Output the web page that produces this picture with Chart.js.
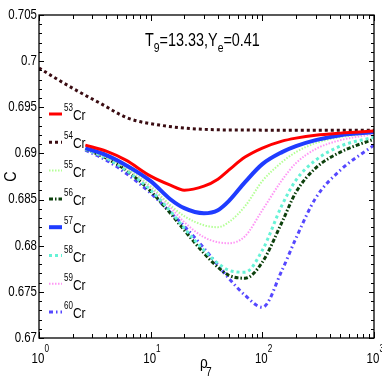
<!DOCTYPE html>
<html><head><meta charset="utf-8">
<script src="https://cdn.jsdelivr.net/npm/chart.js@4.4.1/dist/chart.umd.min.js"></script>
<style>html,body{margin:0;padding:0;background:#fff;}canvas{display:block;}</style>
</head><body>
<canvas id="c" width="382" height="382"></canvas>
<script>
// ---- data ----
const rho   = [2.6, 4, 6, 10, 15, 20, 30, 40, 50, 70, 100, 150, 200, 300, 500, 1000];
const rho54 = [1, 1.5, 2.3, 3.5, 6.25, 12, 27, 77, 200, 1000];
const c54 = [0.69925, 0.69795, 0.69665, 0.69546, 0.69383, 0.69307, 0.69264, 0.69253, 0.69252, 0.69252];
const c53 = [0.69090, 0.69025, 0.68927, 0.68754, 0.68656, 0.68602, 0.68645, 0.68721, 0.68819, 0.68960, 0.69058, 0.69133, 0.69166, 0.69198, 0.69220, 0.69242];
const c55 = [0.69047, 0.68960, 0.68841, 0.68645, 0.68439, 0.68320, 0.68222, 0.68201, 0.68255, 0.68428, 0.68700, 0.68906, 0.69014, 0.69112, 0.69177, 0.69220];
const c56 = [0.69047, 0.68949, 0.68819, 0.68591, 0.68352, 0.68168, 0.67919, 0.67767, 0.67680, 0.67648, 0.67821, 0.68255, 0.68580, 0.68841, 0.69014, 0.69155];
const c57 = [0.69058, 0.68982, 0.68873, 0.68700, 0.68504, 0.68407, 0.68352, 0.68385, 0.68483, 0.68689, 0.68884, 0.69014, 0.69079, 0.69144, 0.69198, 0.69231];
const c58 = [0.69047, 0.68949, 0.68819, 0.68602, 0.68374, 0.68190, 0.67951, 0.67810, 0.67734, 0.67713, 0.67951, 0.68439, 0.68710, 0.68927, 0.69079, 0.69177];
const c59 = [0.69047, 0.68960, 0.68841, 0.68634, 0.68418, 0.68255, 0.68092, 0.68038, 0.68027, 0.68103, 0.68385, 0.68710, 0.68895, 0.69047, 0.69144, 0.69209];
const c60 = [0.69036, 0.68927, 0.68786, 0.68569, 0.68363, 0.68211, 0.67973, 0.67789, 0.67648, 0.67463, 0.67333, 0.67734, 0.68081, 0.68515, 0.68819, 0.69090];
const yTicks = [0.67, 0.675, 0.68, 0.685, 0.69, 0.695, 0.7, 0.705];
const yTickLabels = ['0.67', '0.675', '0.68', '0.685', '0.69', '0.695', '0.7', '0.705'];
const xTicks = [1, 10, 100, 1000];
const xTickExp = ['0', '1', '2', '3'];
const massNumbers = ['53', '54', '55', '56', '57', '58', '59', '60'];
const titleParts = [['T', 0], ['9', 1], ['=13.33,Y', 0], ['e', 1], ['=0.41', 0]];

// ---- styles ----
const FONT = "'Liberation Sans Narrow','Liberation Sans',Arial,sans-serif";
const styles = {
  '53': {color: '#ff0000', width: 3, dash: []},
  '54': {color: '#3a0c12', width: 3, dash: [3, 3]},
  '55': {color: '#b4ff96', width: 2, dash: [1.5, 1.5]},
  '56': {color: '#0c400c', width: 3, dash: [4, 2, 1.5, 2]},
  '57': {color: '#1f3cff', width: 4, dash: []},
  '58': {color: '#66f2d6', width: 3, dash: [3, 3]},
  '59': {color: '#ff96f5', width: 2, dash: [1.5, 1.5]},
  '60': {color: '#5547ff', width: 3, dash: [4, 3, 1.5, 3]}
};
const seriesData = {'53': c53, '55': c55, '56': c56, '57': c57, '58': c58, '59': c59, '60': c60};

function mk(name, xs, ys) {
  const s = styles[name];
  return {
    label: name + 'Cr',
    data: xs.map((x, i) => ({x: x, y: ys[i]})),
    borderColor: s.color, borderWidth: s.width, borderDash: s.dash,
    pointRadius: 0, fill: false, cubicInterpolationMode: 'monotone', borderCapStyle: 'butt'
  };
}
const datasets = [];
['53', '57', '55', '59', '58', '56', '60'].forEach(n => datasets.push(mk(n, rho, seriesData[n])));
datasets.push(mk('54', rho54, c54));

function txt(ctx, s, x, y, size, align, baseline, sx) {
  ctx.save();
  ctx.translate(x, y);
  ctx.scale(sx, 1);
  ctx.font = size + 'px ' + FONT;
  ctx.textAlign = align; ctx.textBaseline = baseline;
  ctx.fillStyle = '#000';
  ctx.fillText(s, 0, 0);
  ctx.restore();
}
function w(ctx, s, size, sx) { ctx.font = size + 'px ' + FONT; return ctx.measureText(s).width * sx; }

const decor = {
  id: 'decor',
  afterDraw(chart) {
    const ctx = chart.ctx, a = chart.chartArea, xs = chart.scales.x, ys = chart.scales.y;
    ctx.save();
    ctx.strokeStyle = '#000'; ctx.lineWidth = 1.3; ctx.setLineDash([]);
    ctx.strokeRect(a.left, a.top, a.right - a.left, a.bottom - a.top);
    ctx.lineWidth = 1;
    // y ticks
    for (let v = 0.67; v <= 0.7051; v += 0.001) {
      const y = Math.round(ys.getPixelForValue(v)) + 0.5;
      const major = Math.abs(Math.round(v * 200) - v * 200) < 1e-6;
      const L = major ? 5 : 3;
      ctx.beginPath(); ctx.moveTo(a.left, y); ctx.lineTo(a.left + L, y);
      ctx.moveTo(a.right, y); ctx.lineTo(a.right - L, y); ctx.stroke();
    }
    // x ticks
    for (let d = 1; d < 1000; d *= 10) {
      for (let m = 1; m <= 10; m++) {
        const v = d * m;
        const x = Math.round(xs.getPixelForValue(v)) + 0.5;
        const major = (m === 1 || m === 10);
        const L = major ? 6 : 4;
        ctx.beginPath(); ctx.moveTo(x, a.bottom); ctx.lineTo(x, a.bottom - L);
        ctx.moveTo(x, a.top); ctx.lineTo(x, a.top + L); ctx.stroke();
      }
    }
    // y tick labels
    yTicks.forEach((v, i) => txt(ctx, yTickLabels[i], a.left - 2, ys.getPixelForValue(v), 14, 'right', 'middle', 0.82));
    // x tick labels
    xTicks.forEach((v, i) => {
      const x = xs.getPixelForValue(v);
      const w10 = w(ctx, '10', 14, 0.82);
      txt(ctx, '10', x - w10 / 2 - 1, a.bottom + 25, 14, 'left', 'alphabetic', 0.82);
      txt(ctx, xTickExp[i], x + w10 / 2 - 1, a.bottom + 14, 10, 'left', 'alphabetic', 0.82);
    });
    // axis labels
    txt(ctx, '\u03c1', 200, a.bottom + 30, 16, 'left', 'alphabetic', 0.85);
    txt(ctx, '7', 206, a.bottom + 38, 12, 'left', 'alphabetic', 0.85);
    ctx.save(); ctx.translate(12, (a.top + a.bottom) / 2); ctx.rotate(-Math.PI / 2);
    txt(ctx, 'C', 0, 0, 16, 'center', 'middle', 0.9);
    ctx.restore();
    // title
    let tx = 145;
    titleParts.forEach(([s, sub]) => {
      const size = sub ? 13 : 18;
      txt(ctx, s, tx, sub ? 52 : 46, size, 'left', 'alphabetic', 0.8);
      tx += w(ctx, s, size, 0.8);
    });
    // legend
    massNumbers.forEach((n, i) => {
      const y = 114 + i * 28.3;
      const s = styles[n];
      ctx.save();
      ctx.strokeStyle = s.color; ctx.lineWidth = s.width; ctx.setLineDash(s.dash); ctx.lineCap = 'butt';
      ctx.beginPath(); ctx.moveTo(49, y); ctx.lineTo(62, y); ctx.stroke();
      ctx.restore();
      txt(ctx, n, 64, y - 3, 10, 'left', 'alphabetic', 0.8);
      const sw = w(ctx, n, 10, 0.8);
      txt(ctx, 'Cr', 64 + sw, y + 6, 15, 'left', 'alphabetic', 0.8);
    });
    ctx.restore();
  }
};

new Chart(document.getElementById('c'), {
  type: 'line',
  data: {datasets: datasets},
  options: {
    responsive: false, animation: false, events: [],
    layout: {padding: {left: 39, right: 8, top: 15, bottom: 44}},
    plugins: {legend: {display: false}, tooltip: {enabled: false}, title: {display: false}},
    scales: {
      x: {type: 'logarithmic', min: 1, max: 1000, display: false},
      y: {type: 'linear', min: 0.67, max: 0.705, display: false}
    }
  },
  plugins: [decor]
});
</script>
</body></html>
